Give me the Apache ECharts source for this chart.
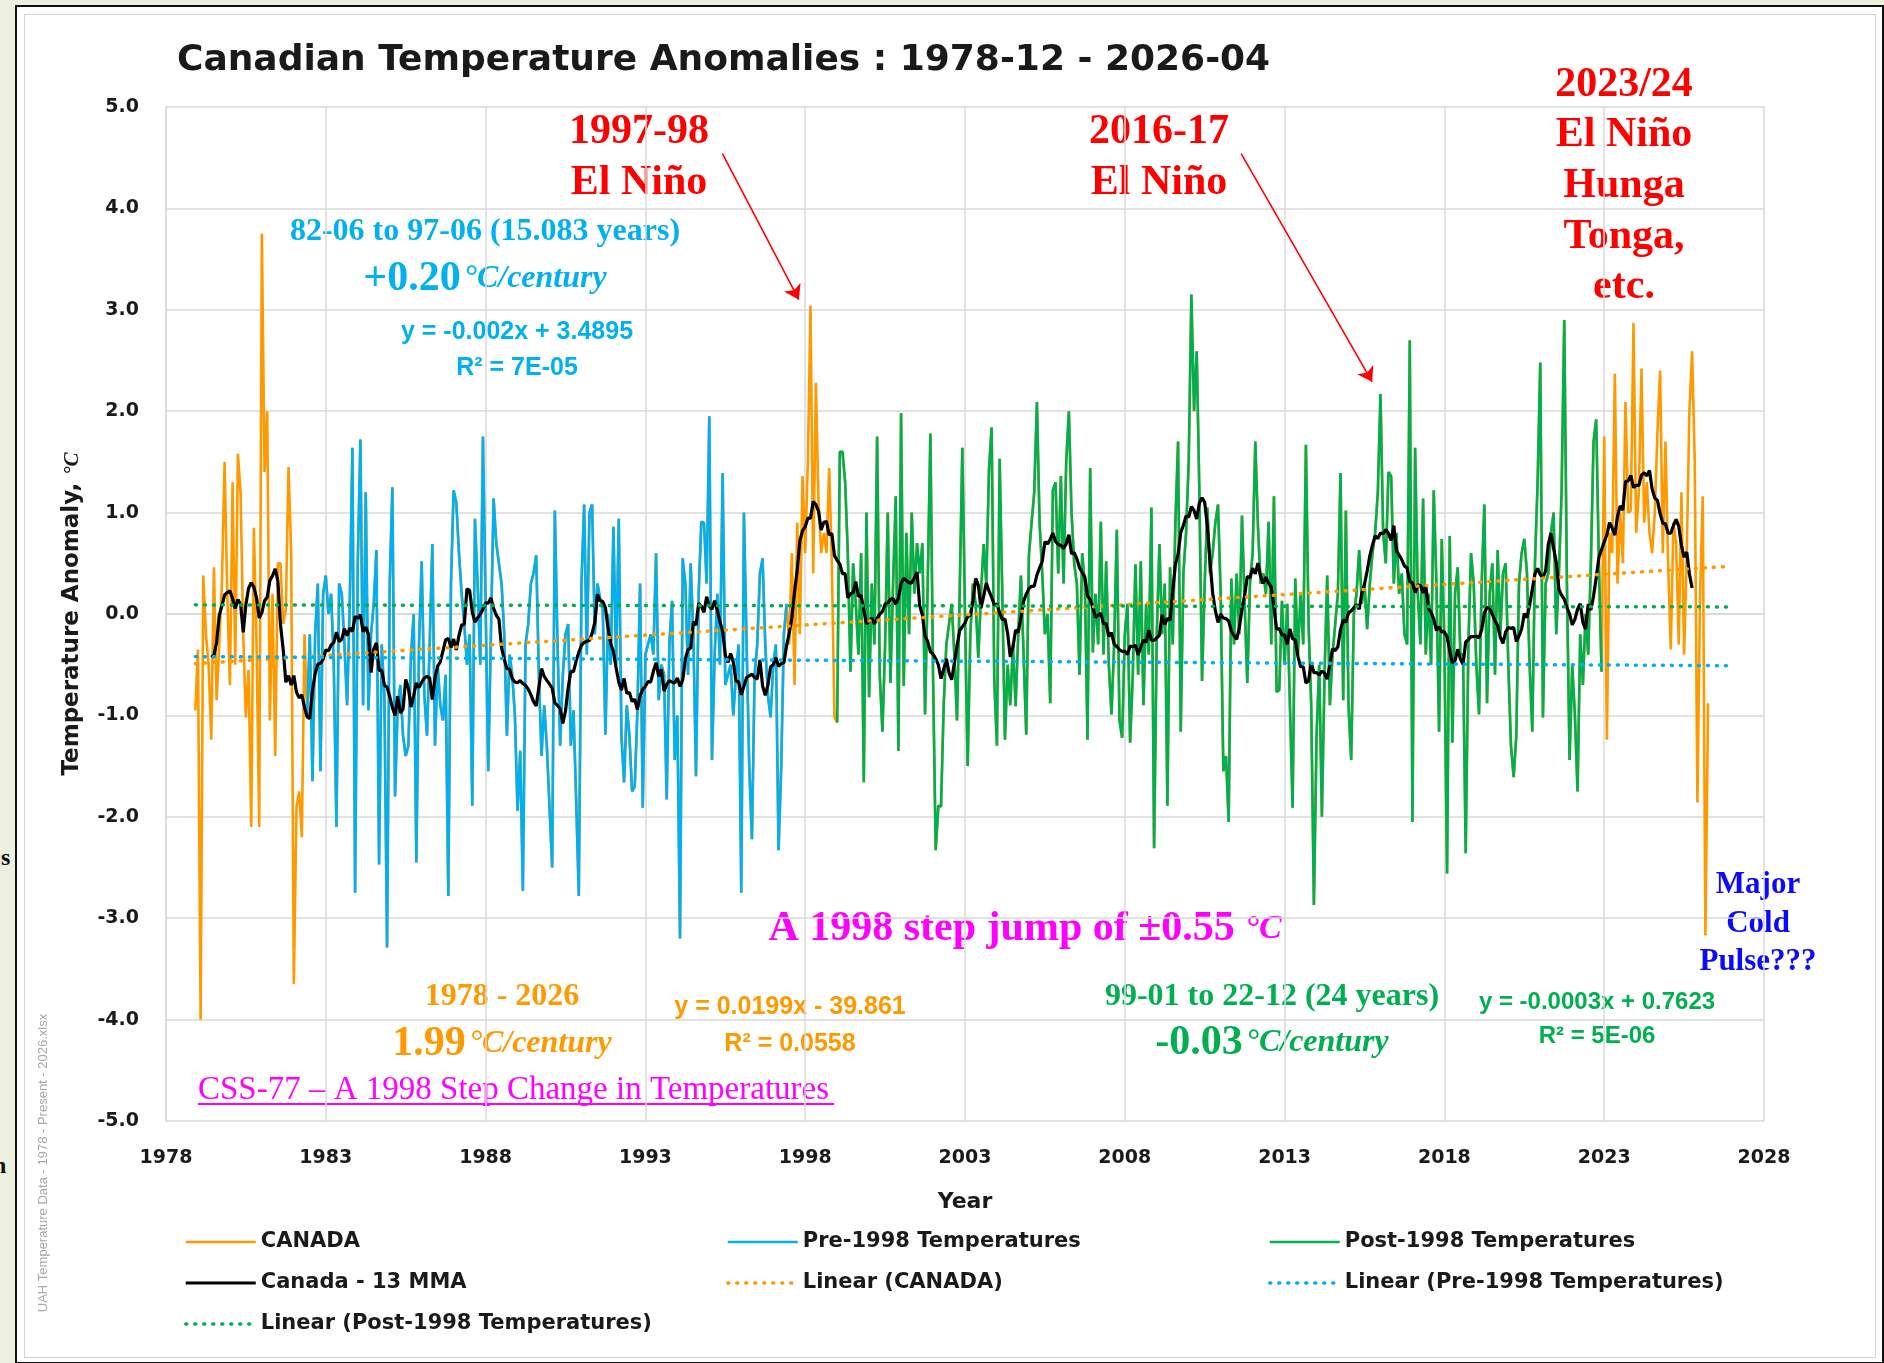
<!DOCTYPE html>
<html>
<head>
<meta charset="utf-8">
<title>Canadian Temperature Anomalies</title>
<script src="https://cdn.jsdelivr.net/npm/echarts@6/dist/echarts.min.js"></script>
<style>
html, body { margin: 0; padding: 0; background: #eef0df; overflow: hidden; }
#frame { position: absolute; left: 15px; top: 5px; width: 1865px; height: 1355px; border: 2px solid #111; background: #fff; }
#inner { position: absolute; left: 24px; top: 14px; width: 1850px; height: 1342px; border: 1px solid #d4d4d4; }
#main { position: absolute; left: 0; top: 0; width: 1884px; height: 1363px; }
.edge { position: absolute; font-family: "Liberation Serif"; font-weight: bold; font-size: 24px; color: #111; }
</style>
</head>
<body>
<div id="frame"></div>
<div id="inner"></div>
<span class="edge" style="left:1px;top:844px;">s</span>
<span class="edge" style="left:-7px;top:1152px;">n</span>
<div id="main"></div>
<script>
// monthly anomalies, first value is 1978-12
var firstMonth = '1978-12';
var canada = [
	-0.95, -0.35, -4.0, 0.38, -0.2, -0.5, -1.24, 0.46, -0.85, -0.3, 0.3, 1.5, 0.2,
	-0.7, 1.3, -0.5, 1.58, 1.2, -0.2, -1.02, -0.55, -2.1, 0.85, -0.3, -2.1,
	3.75, 1.4, 2.0, -1.05, 0.2, -1.4, 0.5, 0.5, -0.1, 0.05, 1.45, 0.6,
	-3.65, -1.9, -1.75, -2.2, -0.2,
	-1.0, -0.2, -1.65, -0.2, 0.3, -1.55, 0.2, 0.38, 0.0, 0.2, -0.5, -2.1, 0.3,
	0.2, -0.3, -0.9, 0.1, 1.64, -2.75, 0.5, 1.72, -0.9, 1.2,
	-0.95, -0.2, 0.1, 0.63, -2.47, -0.3, -0.8, -3.29, 0.3, 1.25,
	-1.8, -0.9, -0.7, -1.2, -1.4, -1.3, -0.4, 0.0, -2.45, -0.3,
	0.52, -0.8, -1.2, -0.3, 0.69, -1.3, -0.5, -0.9, -1.05, -0.6,
	-2.78, 0.3, 1.22, 1.1, 0.6, 0.2, -0.1, -0.5, -0.2, -1.89,
	0.94, 0.3, -0.5, 1.75, 0.1, -1.55,
	-0.2, 1.14, 0.7, 0.5, 0.3, -0.2, -1.2, -0.4, -0.6, -1.0,
	-1.94, -1.35, -2.73, -0.3, -0.1, 0.3, 0.4, 0.58, -0.6, -1.4,
	-0.9, -1.3, -1.9, -2.5, 1.02, -0.3, -1.3, -0.6, -0.2, -0.1,
	-1.3, -0.95, -1.83, -2.78, 0.3, 1.08, -0.4, 1.0, 1.08, -0.2,
	0.3, 0.15, 0.05, -1.19, 0.0, -0.5, 0.86, -0.5, 0.94, -1.2,
	-1.66, -0.9, -1.2, -1.75, -1.7, -0.95, 0.3, -1.91, -0.4, -0.3,
	-0.2, -0.4, 0.6, -0.85, -0.5, -0.6, -1.83, -0.3, 0.13, -1.44,
	-1.0, -3.2, 0.55, 0.3, -0.6, 0.5, -0.2, -1.6, 0.2, 0.91,
	0.9, 0.3, 1.95, -1.44, -0.4, 0.2, -0.5, 1.39, -0.7, -0.6,
	-0.5, -1.0, -0.6, -0.3, -2.75, 1.0, -0.3, -1.5, -2.22, -0.6,
	-0.3, 0.4, 0.55, -0.3, -0.8, -1.02, -0.5, -0.3, -2.33, -1.5, -0.2,
	0.1, -0.3, 0.6, -0.7, 0.9, -0.2, 1.36, 0.6, 1.5, 3.04,
	0.4, 2.28, 1.1, 0.6, 0.8, 0.6, 1.44, 0.5, -1.02,
	-1.07, 1.6, 1.6, 1.3, 0.6, -0.57, 0.5, 0.1, -0.4, 0.6,
	-1.66, 1.0, -0.82, 0.3, -0.3, 1.75, -0.6, -1.16, -0.3, 1.0,
	-0.68, 0.3, 1.16, -1.35, 1.98, -0.71, 0.8, -0.2, 1.0, 0.2,
	0.7, 0.4, 0.7, -0.99, 0.3, 1.78, -0.6, -2.33, -1.89, -1.9,
	-0.9, -0.3, -0.1, 0.1, -0.4, -1.05, 0.2,
	1.64, 0.0, -1.5, -0.2, 0.3, 0.1, -0.43, 0.2, 0.69, 0.3,
	1.42, 1.84, -0.66, -1.3, 1.53, 0.2, -1.24, -0.5, -0.9, -0.3,
	-0.91, -0.2, 0.38, -0.4, -1.19, 0.58, 0.9, 1.2, 2.09, 0.9,
	0.4, -0.2, 0.0, -0.88, 1.22, 1.3, 0.4, 1.36, 0.3, 1.5,
	2.0, 1.0, 0.5, 0.3, -0.6, 0.6, 0.3, -1.24, 1.44, -0.38,
	0.2, -0.3, 0.91, -0.4, 0.52, -0.5,
	-0.99, -0.3, 0.83, -1.05, -1.22, -0.2, 0.1, -1.27, -0.6, 0.49,
	-0.6, 0.52, -0.9, 0.1, -0.4, 1.05, -2.31, -0.2, 0.69, -0.2,
	0.3, -1.89, 0.46, -0.3, 0.9, 1.7, -1.16, 0.4, 0.8, 1.5,
	3.15, 2.0, 2.59, 1.2, -0.66, 0.3, 1.05, 0.4, 0.6, 0.9,
	1.08, 0.2, -1.55, -1.4, -2.05, 0.35, -0.3, 0.4, -0.2, 0.97,
	0.1, -0.68, 0.3, 0.6, 1.7, 0.86, 0.3,
	0.4, 0.2, 0.91, -0.3, 1.16, -0.77, -0.75, 0.13, -0.5, 0.1,
	-0.9, -1.91, 0.35, -0.4, 0.2, -0.3, 1.67, -0.1, -0.9, -2.87,
	-1.2, -0.5, -2.0, -0.6, 0.38, -0.9, -0.4, -0.1, 0.2, 1.39,
	-0.85, 1.02, -0.9, -1.44, 0.0, 0.2, 0.63, 0.1, 0.3, -0.15,
	0.3, 0.6, 0.8, 1.2, 2.17, 0.8, 0.5, 1.4, 1.36, 0.3,
	0.8, 0.2, 0.4, -0.2, -0.3, 2.7, -2.05, 1.64,
	0.2, -0.3, 1.14, -0.4, 0.2, -0.5, 1.22, 0.3, -1.16, 0.74,
	-0.3, -2.56, 0.77, -1.27, 0.2, 0.46, -0.4, -0.4, -2.36, -0.3,
	0.6, 0.3, -0.5, -0.99, 0.3, 1.08, -0.88, 0.2, 0.5, -0.6,
	0.63, -0.2, 0.4, 0.5, -0.5, -1.3, -1.61, -1.2, 0.3, 0.6,
	0.74, 0.4, -0.5, -1.16, 0.5, 1.3, 2.48, -1.02, 0.3, 0.4,
	0.8, 1.0, -0.2, 0.4, 1.2, 2.9, 0.3, -1.44,
	-0.5, -1.0, -1.75, -0.2, -0.7, 0.0, -0.4, 0.5, 1.7, 1.92, 0.5, -0.57,
	1.75, -1.24, 0.8, 0.6, 2.37, 0.3, 1.0, 0.5, 2.09, 1.0,
	1.02, 2.87, 0.8, 1.2, 2.42, 0.9, 1.3, 0.8, 0.6, 1.0,
	1.8, 2.4, 0.6, 1.7, 0.5, -0.35, 0.9, 0.7, -0.3, 1.2,
	-0.4, 0.6, 2.0, 2.59, 1.5, -1.86, 0.2, 1.16, -3.17, -0.88
];

// sub-periods drawn in their own colour
var preRange = ['1982-06', '1997-06'];
var postRange = ['1999-01', '2022-12'];

// trend lines (year, value at both ends)
var trendYears = [1978.92, 2026.9];
var trendCanada = [-0.49, 0.47];
var trendPre = [-0.42, -0.51];
var trendPost = [0.09, 0.07];

// x axis ticks
var baseYear = 1978;
var lastYear = 2028;

// red arrows: [fromYear, fromValue, toYear, toValue]
var arrows = [
	[1995.41, 4.54, 1997.8, 3.1],
	[2011.64, 4.54, 2015.74, 2.29]
];

var sans = 'DejaVu Sans';
var serif = 'Liberation Serif';

function monthIndex(s) {
	var p = s.split('-');
	var f = firstMonth.split('-');
	return (+p[0] - +f[0]) * 12 + (+p[1] - +f[1]);
}
function xOf(i) {
	var f = firstMonth.split('-');
	return (+f[0] - baseYear) + (+f[1] - 1 + i) / 12;
}

var pts = canada.map(function (v, i) { return [xOf(i), v]; });
var prePts = pts.slice(monthIndex(preRange[0]), monthIndex(preRange[1]) + 1);
var postPts = pts.slice(monthIndex(postRange[0]), monthIndex(postRange[1]) + 1);

var mma = [];
for (var i = 6; i < canada.length - 6; i++) {
	var s = 0;
	for (var k = -6; k <= 6; k++) s += canada[i + k];
	mma.push([xOf(i), s / 13]);
}

function trend(vals) {
	return [[trendYears[0] - baseYear, vals[0]], [trendYears[1] - baseYear, vals[1]]];
}

function dotted(name, color, vals) {
	return {
		name: name, type: 'line', symbol: 'none', silent: true,
		lineStyle: { color: color, width: 3.5, type: [1, 8], cap: 'round' },
		itemStyle: { color: color },
		data: trend(vals), z: 5
	};
}

function legendCol(left, names) {
	return {
		orient: 'vertical', left: left, top: 1230, padding: 0,
		itemWidth: 70, itemHeight: 14, itemGap: 17,
		selectedMode: false, data: names,
		itemStyle: { opacity: 0 },
		lineStyle: { width: 'inherit' },
		textStyle: { fontFamily: sans, fontWeight: 'bold', fontSize: 21, color: '#1a1a1a', lineHeight: 24 }
	};
}

function txt(x, y, text, font, color) {
	return {
		type: 'text', x: x, y: y, silent: true,
		style: { text: text, font: font, fill: color, align: 'center', verticalAlign: 'middle', textAlign: 'center', textVerticalAlign: 'middle' }
	};
}
function rich(x, y, text, richStyles, color) {
	return {
		type: 'text', x: x, y: y, silent: true,
		style: { text: text, rich: richStyles, fill: color, align: 'center', verticalAlign: 'middle', textAlign: 'center', textVerticalAlign: 'middle' }
	};
}

var RED = '#ff0000', BLUE = '#00b0f0', ORANGE = '#ff9900', GREEN = '#00b050', MAGENTA = '#ff00ff', DKBLUE = '#0a0aff';
var serifB = function (sz) { return 'bold ' + sz + 'px "' + serif + '"'; };
var serifBI = function (sz) { return 'italic bold ' + sz + 'px "' + serif + '"'; };
var sansB = function (sz) { return 'bold ' + sz + 'px "Liberation Sans"'; };

function centuryLine(color) {
	return {
		a: { font: serifB(42), fill: color },
		b: { font: serifBI(32), fill: color }
	};
}

var graphics = [
	txt(639, 132, '1997-98', serifB(42), RED),
	txt(639, 183, 'El Niño', serifB(42), RED),
	txt(1159, 132, '2016-17', serifB(42), RED),
	txt(1159, 183, 'El Niño', serifB(42), RED),
	txt(1624, 85, '2023/24', serifB(42), RED),
	txt(1624, 135, 'El Niño', serifB(42), RED),
	txt(1624, 186, 'Hunga', serifB(42), RED),
	txt(1624, 237, 'Tonga,', serifB(42), RED),
	txt(1624, 287, 'etc.', serifB(42), RED),

	txt(485, 232, '82-06 to 97-06 (15.083 years)', serifB(32), BLUE),
	rich(485, 279, '{a|+0.20} {b|°C/century}', centuryLine(BLUE), BLUE),
	txt(517, 332, 'y = -0.002x + 3.4895', sansB(25), BLUE),
	txt(517, 368, 'R² = 7E-05', sansB(25), BLUE),

	txt(502, 997, '1978 - 2026', serifB(32), ORANGE),
	rich(502, 1044, '{a|1.99} {b|°C/century}', centuryLine(ORANGE), ORANGE),
	txt(790, 1007, 'y = 0.0199x - 39.861', sansB(25), ORANGE),
	txt(790, 1044, 'R² = 0.0558', sansB(25), ORANGE),

	rich(1025, 929, '{a|A 1998 step jump of ±0.55 }{b|°C}', {
		a: { font: serifB(42), fill: MAGENTA },
		b: { font: serifBI(34), fill: MAGENTA }
	}, MAGENTA),

	txt(1272, 997, '99-01 to 22-12 (24 years)', serifB(32), GREEN),
	rich(1272, 1043, '{a|-0.03} {b|°C/century}', centuryLine(GREEN), GREEN),
	txt(1597, 1002, 'y = -0.0003x + 0.7623', sansB(24), GREEN),
	txt(1597, 1036, 'R² = 5E-06', sansB(24), GREEN),

	txt(1758, 885, 'Major', serifB(31), DKBLUE),
	txt(1758, 924, 'Cold', serifB(31), DKBLUE),
	txt(1758, 962, 'Pulse???', serifB(31), DKBLUE),

	{
		type: 'text', x: 198, y: 1090, silent: true,
		style: { text: 'CSS-77 – A 1998 Step Change in Temperatures', font: '33px "' + serif + '"', fill: MAGENTA, align: 'left', verticalAlign: 'middle', textAlign: 'left', textVerticalAlign: 'middle' }
	},
	{ type: 'line', silent: true, shape: { x1: 198, y1: 1104, x2: 834, y2: 1104 }, style: { stroke: MAGENTA, lineWidth: 2 } },

	{
		type: 'text', x: 43, y: 1163, rotation: Math.PI / 2, silent: true,
		style: { text: 'UAH Temperature Data - 1978 - Present - 2026.xlsx', font: '13px "Liberation Sans"', fill: '#a8a8a8', align: 'center', verticalAlign: 'middle', textAlign: 'center', textVerticalAlign: 'middle' }
	}
];

var myChart = echarts.init(document.getElementById('main'));

myChart.setOption({
	animation: false,
	backgroundColor: 'transparent',

	title: {
		text: 'Canadian Temperature Anomalies : 1978-12 - 2026-04',
		left: 177, top: 43, padding: 0,
		textStyle: { fontFamily: sans, fontWeight: 'bold', fontSize: 36, color: '#1a1a1a' }
	},

	grid: { left: 166, top: 107, width: 1598, height: 1014, containLabel: false },

	legend: [
		legendCol(184, ['CANADA', 'Canada - 13 MMA', 'Linear (Post-1998 Temperatures)']),
		legendCol(726, ['Pre-1998 Temperatures', 'Linear (CANADA)']),
		legendCol(1268, ['Post-1998 Temperatures', 'Linear (Pre-1998 Temperatures)'])
	],

	xAxis: {
		type: 'value', min: 0, max: lastYear - baseYear, interval: 5,
		name: 'Year', nameLocation: 'middle', nameGap: 70,
		nameTextStyle: { fontFamily: sans, fontWeight: 'bold', fontSize: 22, color: '#1a1a1a' },
		axisLine: { lineStyle: { color: '#d9d9d9', width: 1.5 } },
		axisTick: { show: false },
		axisLabel: {
			margin: 28, fontFamily: sans, fontWeight: 'bold', fontSize: 19, color: '#1a1a1a',
			formatter: function (v) { return String(Math.round(v + baseYear)); }
		},
		splitLine: { show: true, lineStyle: { color: '#d9d9d9', width: 1.5 } }
	},

	yAxis: {
		type: 'value', min: -5, max: 5, interval: 1,
		name: 'Temperature Anomaly, {i|°C}', nameLocation: 'middle', nameGap: 82,
		nameTextStyle: {
			fontFamily: sans, fontWeight: 'bold', fontSize: 23, color: '#1a1a1a',
			rich: { i: { fontFamily: serif, fontStyle: 'italic', fontWeight: 'bold', fontSize: 21, color: '#1a1a1a' } }
		},
		axisLine: { show: true, lineStyle: { color: '#d9d9d9', width: 1.5 } },
		axisTick: { show: false },
		axisLabel: {
			margin: 27, fontFamily: sans, fontWeight: 'bold', fontSize: 19, color: '#1a1a1a',
			formatter: function (v) { return v.toFixed(1); }
		},
		splitLine: { lineStyle: { color: '#d9d9d9', width: 1.5 } }
	},

	series: [
		{
			name: 'CANADA', type: 'line', symbol: 'none', data: pts,
			lineStyle: { color: ORANGE, width: 2.6 }, itemStyle: { color: ORANGE }, z: 2,
			markLine: {
				silent: true, animation: false,
				symbol: ['none', 'arrow'], symbolSize: 14,
				label: { show: false },
				lineStyle: { color: RED, width: 1.6, type: 'solid' },
				data: arrows.map(function (a) {
					return [{ coord: [a[0] - baseYear, a[1]] }, { coord: [a[2] - baseYear, a[3]] }];
				})
			}
		},
		{
			name: 'Pre-1998 Temperatures', type: 'line', symbol: 'none', data: prePts,
			lineStyle: { color: BLUE, width: 2.6 }, itemStyle: { color: BLUE }, z: 3
		},
		{
			name: 'Post-1998 Temperatures', type: 'line', symbol: 'none', data: postPts,
			lineStyle: { color: GREEN, width: 2.6 }, itemStyle: { color: GREEN }, z: 3
		},
		{
			name: 'Canada - 13 MMA', type: 'line', symbol: 'none', data: mma,
			lineStyle: { color: '#000', width: 3.2 }, itemStyle: { color: '#000' }, z: 4
		},
		dotted('Linear (CANADA)', ORANGE, trendCanada),
		dotted('Linear (Pre-1998 Temperatures)', BLUE, trendPre),
		dotted('Linear (Post-1998 Temperatures)', GREEN, trendPost)
	],

	graphic: graphics
});
</script>
</body>
</html>
